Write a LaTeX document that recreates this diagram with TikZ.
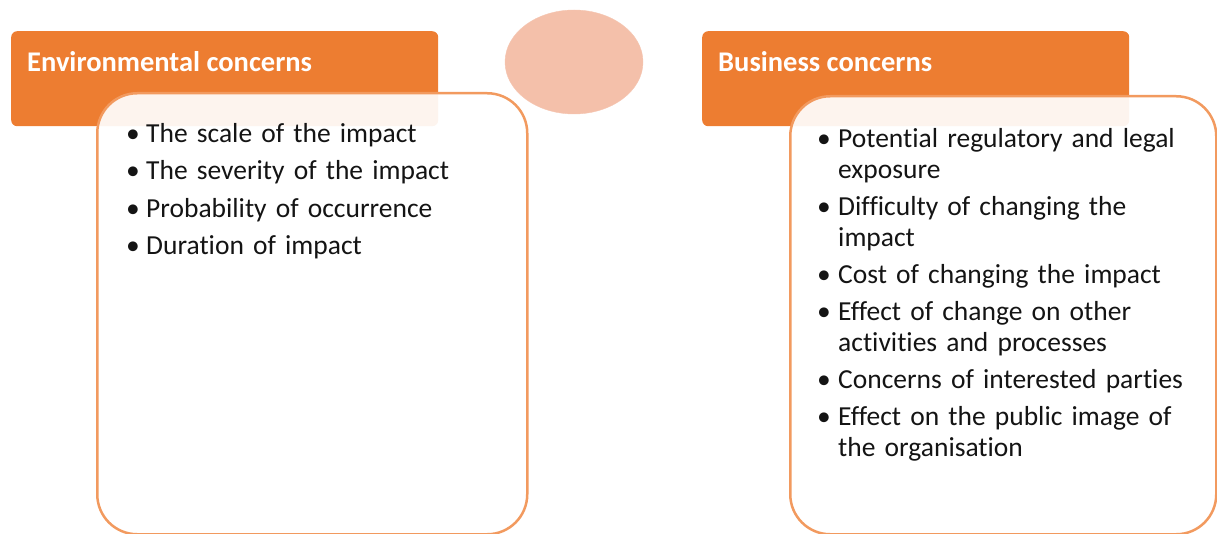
\documentclass[tikz,border=0pt]{standalone}
\usepackage{fontspec}
\setmainfont{Carlito}[Ligatures=NoCommon]
\usetikzlibrary{shapes.geometric}
\definecolor{hdr}{HTML}{ED7D31}
\definecolor{bord}{HTML}{F29A5F}
\definecolor{circ}{HTML}{F4C0AA}
\definecolor{txt}{HTML}{141414}
\newcommand\bitem[2][20pt]{\par\hangindent=#1\hangafter=1\noindent\makebox[#1][l]{\strut•}#2}
\tikzset{
  header/.style={anchor=north west, minimum width=427pt, minimum height=95pt, rounded corners=6pt, fill=hdr, inner sep=0pt},
  htext/.style={anchor=west, text=white, font=\fontsize{28.5}{32}\selectfont\bfseries, inner sep=0pt},
  content/.style={anchor=north west, rounded corners=40pt, draw=bord, line width=2.5pt, fill=white, fill opacity=0.92, inner sep=0pt},
  items/.style={anchor=north west, inner sep=0pt, align=left, text=txt, font=\fontsize{27.5}{31}\selectfont},
  blob/.style={ellipse, fill=circ, draw=circ!90!white, minimum width=138pt, minimum height=104pt, inner sep=0pt}
}
\begin{document}
\begin{tikzpicture}[x=1pt,y=-1pt]
\useasboundingbox (0,0) rectangle (1217,534);
% left
\node[header] (h1) at (11,31) {};
\node[htext] (t1) at (27,62) {Environmental concerns};
\node[content, minimum width=430pt, minimum height=441pt] (b1) at (96,92) {};
\node[items, text width=420pt] (l1) at (126,105) {%
\setlength\parskip{6.3pt}%
\bitem{The scale of the impact}
\bitem{The severity of the impact}
\bitem{Probability of occurrence}
\bitem{Duration of impact}\par};
% circle
\node[blob] (c) at (574,62) {};
% right
\node[header] (h2) at (702,31) {};
\node[htext] (t2) at (718,62) {Business concerns};
\node[content, minimum width=426pt, minimum height=438pt] (b2) at (789,95) {};
\node[items, text width=400pt] (l2) at (817,110) {%
\setlength\parskip{6pt}%
\bitem[21pt]{Potential regulatory and legal\newline exposure}
\bitem[21pt]{Difficulty of changing the\newline impact}
\bitem[21pt]{Cost of changing the impact}
\bitem[21pt]{Effect of change on other\newline activities and processes}
\bitem[21pt]{Concerns of interested parties}
\bitem[21pt]{Effect on the public image of\newline the organisation}\par};
\end{tikzpicture}
\end{document}
